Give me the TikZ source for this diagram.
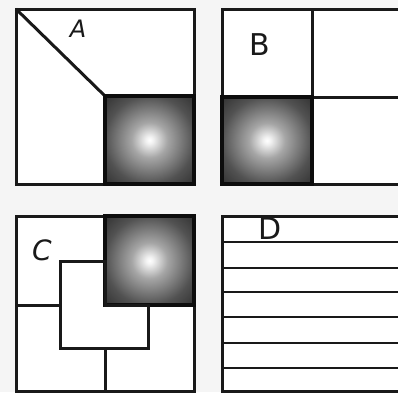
\documentclass[tikz,border=0pt]{standalone}
\usepackage{fontspec}
\setmainfont{DejaVu Sans}
\pgfdeclareradialshading{sqglow}{\pgfpointorigin}{color(0bp)=(white); color(2bp)=(white!95!black); color(10bp)=(black!35); color(25bp)=(black!68); color(35bp)=(black!80); color(50bp)=(black!80)}
\begin{document}
\begin{tikzpicture}[x=1pt,y=-1pt,
  panel/.style={draw=black!90, line width=3pt, fill=white},
  ln/.style={draw=black!90, line width=3pt},
  glow/.style={draw=black!95, line width=3.5pt, shading=sqglow},
  lbl/.style={font=\fontsize{30}{30}\selectfont, text=black!90, inner sep=0pt}]
\useasboundingbox[fill=black!4] (0,0) rectangle (398,392);
% Panel A
\draw[panel] (16,9) rectangle (194,184);
\draw[ln] (16,9) -- (105,96);
\shade[glow] (105,96) rectangle (194,184);
\node[lbl, font=\itshape\fontsize{24}{24}\selectfont] (la) at (78,29) {A};
% Panel B
\draw[panel] (222,9) rectangle (404,184);
\draw[ln] (312,9) -- (312,184);
\draw[ln] (222,97) -- (404,97);
\shade[glow] (222,97) rectangle (312,184);
\node[lbl] (lb) at (260,45) {B};
% Panel C
\draw[panel] (16,216) rectangle (194,391);
\shade[glow] (105,216) rectangle (194,305);
\draw[ln] (60,261) -- (105,261) -- (105,305) -- (148,305) -- (148,348) -- (60,348) -- cycle;
\draw[ln] (16,305) -- (60,305);
\draw[ln] (105,348) -- (105,392);
\node[lbl, font=\itshape\fontsize{28}{28}\selectfont] (lc) at (42,250) {C};
% Panel D
\draw[panel] (222,216) rectangle (404,391);
\foreach \yy in {242,268,292,317,343,368}
  \draw[ln, line width=2.8pt] (222,\yy) -- (404,\yy);
\node[lbl, fill=white, inner sep=0pt] (ld) at (270,229) {D};
\draw[ln, line width=2.8pt] (222,242) -- (404,242);
\end{tikzpicture}
\end{document}
